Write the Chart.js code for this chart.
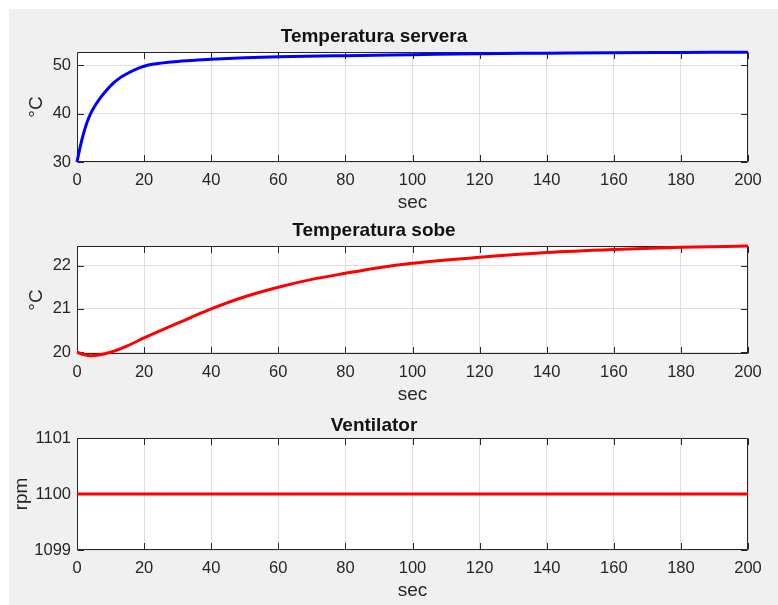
<!DOCTYPE html>
<html>
<head>
<meta charset="utf-8">
<script src="https://cdn.jsdelivr.net/npm/chart.js@4/dist/chart.umd.min.js"></script>
<style>
  body { margin: 0; background: #fff; }
  #frame { position: absolute; left: 9px; top: 9px; width: 769px; height: 596px; background: #f0f0f0; }
  canvas { position: absolute; left: 0; }
</style>
</head>
<body>
<div id="frame"></div>
<canvas id="c1" width="778" height="215" style="top:0px"></canvas>
<canvas id="c2" width="778" height="200" style="top:210px"></canvas>
<canvas id="c3" width="778" height="200" style="top:405px"></canvas>
<script>
// server temperature (blue)
const serverTime = [0, 1, 2, 3, 4, 5, 7, 9, 11, 13, 15, 18, 20, 22, 25, 30, 36, 40, 50, 60, 80, 100, 120, 140, 160, 180, 200];
const serverTemp = [30, 33.3, 36.0, 38.2, 39.9, 41.2, 43.3, 45.0, 46.4, 47.5, 48.3, 49.3, 49.8, 50.15, 50.45, 50.8, 51.1, 51.25, 51.55, 51.75, 52.0, 52.2, 52.4, 52.5, 52.6, 52.65, 52.7];

// room temperature (red)
const roomTime = [0, 2, 4, 6, 8, 10, 15, 20, 30, 40, 50, 60, 70, 80, 90, 100, 120, 140, 160, 180, 200];
const roomTemp = [20.0, 19.95, 19.92, 19.93, 19.96, 20.0, 20.15, 20.33, 20.67, 21.0, 21.28, 21.5, 21.68, 21.82, 21.95, 22.05, 22.19, 22.3, 22.37, 22.42, 22.45];

// fan speed
const fanTime = [0, 200];
const fanRpm = [1100, 1100];

const xTicks = [0, 20, 40, 60, 80, 100, 120, 140, 160, 180, 200];
const serverTicks = [30, 40, 50];
const roomTicks = [20, 21, 22];
const fanTicks = [1099, 1100, 1101];

Chart.defaults.font.family = "'Liberation Sans', Arial, sans-serif";
Chart.defaults.color = '#262626';

// white plot area, box and inward tick marks like matlab
const matlabAxes = {
    id: 'matlabAxes',
    beforeDraw(chart) {
        const { ctx, chartArea: a } = chart;
        ctx.save();
        ctx.fillStyle = '#ffffff';
        ctx.fillRect(a.left, a.top, a.right - a.left, a.bottom - a.top);
        ctx.restore();
    },
    beforeDatasetsDraw(chart) {
        const { ctx, chartArea: a, scales: { x, y } } = chart;
        const tl = 6.5;
        const L = Math.round(a.left) + 0.5, R = Math.round(a.right) - 0.5;
        const T = Math.round(a.top) + 0.5, B = Math.round(a.bottom) - 0.5;
        ctx.save();
        ctx.strokeStyle = '#262626';
        ctx.lineWidth = 1;
        ctx.beginPath();
        x.ticks.forEach(t => {
            const px = Math.round(x.getPixelForValue(t.value)) + 0.5;
            ctx.moveTo(px, B); ctx.lineTo(px, B - tl);
            ctx.moveTo(px, T); ctx.lineTo(px, T + tl);
        });
        y.ticks.forEach(t => {
            const py = Math.round(y.getPixelForValue(t.value)) + 0.5;
            ctx.moveTo(L, py); ctx.lineTo(L + tl, py);
            ctx.moveTo(R, py); ctx.lineTo(R - tl, py);
        });
        ctx.rect(L, T, R - L, B - T);
        ctx.stroke();
        ctx.restore();
    }
};

function toPoints(xs, ys) {
    return xs.map((v, i) => ({ x: v, y: ys[i] }));
}

function makeChart(id, cfg) {
    const ctx = document.getElementById(id).getContext('2d');
    return new Chart(ctx, {
        type: 'line',
        data: {
            datasets: [{
                data: toPoints(cfg.xs, cfg.ys),
                borderColor: cfg.color,
                borderWidth: 3,
                pointRadius: 0,
                fill: false,
                cubicInterpolationMode: 'monotone',
                clip: 4
            }]
        },
        options: {
            responsive: false,
            animation: false,
            devicePixelRatio: 1,
            layout: { padding: { left: 0, right: 30, top: 0, bottom: 0 } },
            plugins: {
                legend: { display: false },
                tooltip: { enabled: false },
                title: {
                    display: true,
                    text: cfg.title,
                    color: '#111111',
                    font: { size: 19, weight: 'bold', lineHeight: 1 },
                    padding: { top: cfg.titleTop, bottom: cfg.titleBottom }
                }
            },
            scales: {
                x: {
                    type: 'linear',
                    min: 0,
                    max: 200,
                    afterBuildTicks: s => { s.ticks = xTicks.map(v => ({ value: v })); },
                    afterFit: s => { s.height = cfg.xHeight; s.paddingLeft = 0; s.paddingRight = 0; },
                    grid: { color: '#dfdfdf', drawTicks: false },
                    border: { display: false },
                    ticks: { padding: 10, maxRotation: 0, font: { size: 16.5, lineHeight: 1 }, color: '#262626', callback: v => String(v) },
                    title: { display: true, text: 'sec', color: '#262626', font: { size: 19, lineHeight: 1 }, padding: { top: 0, bottom: cfg.xTitleBottom } }
                },
                y: {
                    min: cfg.yMin,
                    max: cfg.yMax,
                    afterBuildTicks: s => { s.ticks = cfg.yTicks.map(v => ({ value: v })); },
                    afterFit: s => { s.width = 77; s.paddingTop = 0; s.paddingBottom = 0; },
                    grid: { color: '#dfdfdf', drawTicks: false },
                    border: { display: false },
                    ticks: { padding: 6, font: { size: 16.5, lineHeight: 1 }, color: '#262626', callback: v => String(v) },
                    title: { display: true, text: cfg.yLabel, color: '#262626', font: { size: 19, lineHeight: 1 }, padding: { top: cfg.yTitlePad, bottom: 0 } }
                }
            }
        },
        plugins: [matlabAxes]
    });
}

makeChart('c1', {
    xs: serverTime, ys: serverTemp, color: '#0000ff',
    title: 'Temperatura servera', yLabel: '°C',
    yMin: 30, yMax: 52.75, yTicks: serverTicks,
    titleTop: 26.9, titleBottom: 6.1, xHeight: 53, xTitleBottom: 3.1, yTitlePad: 27.5
});

makeChart('c2', {
    xs: roomTime, ys: roomTemp, color: '#ff0000',
    title: 'Temperatura sobe', yLabel: '°C',
    yMin: 19.96, yMax: 22.45, yTicks: roomTicks,
    titleTop: 10.9, titleBottom: 6.1, xHeight: 56, xTitleBottom: 6.1, yTitlePad: 27.5
});

makeChart('c3', {
    xs: fanTime, ys: fanRpm, color: '#ff0000',
    title: 'Ventilator', yLabel: 'rpm',
    yMin: 1099, yMax: 1101, yTicks: fanTicks,
    titleTop: 10.9, titleBottom: 3.1, xHeight: 55, xTitleBottom: 5, yTitlePad: 12.5
});
</script>
</body>
</html>
